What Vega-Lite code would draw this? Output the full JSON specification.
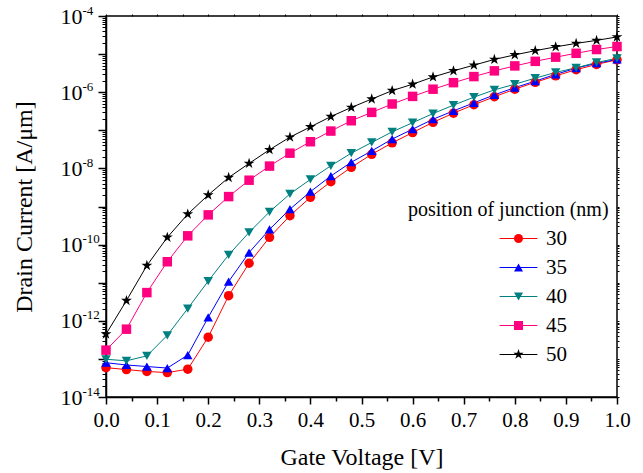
{
  "$schema": "https://vega.github.io/schema/vega-lite/v6.json",
  "width": 511,
  "height": 381,
  "autosize": {"type": "none"},
  "padding": {"left": 106, "top": 16, "right": 26, "bottom": 76},
  "background": "white",
  "config": {
    "font": "Liberation Serif",
    "view": {"stroke": "black", "strokeWidth": 1.5},
    "style": {"guide-label": {"font": "Liberation Serif"}, "guide-title": {"font": "Liberation Serif"}},
    "axis": {"grid": false, "tickColor": "black", "domainColor": "black", "labelColor": "black", "titleColor": "black", "tickWidth": 1.5, "domainWidth": 1.5, "labelFont": "Liberation Serif", "titleFont": "Liberation Serif", "titleFontWeight": "normal"},
    "legend": {"titleFont": "Liberation Serif", "labelFont": "Liberation Serif", "titleFontSize": 20, "titleFontWeight": "normal", "titleColor": "black", "titleLimit": 400, "labelFontSize": 21, "labelColor": "black", "symbolSize": 81, "symbolStrokeWidth": 1, "symbolOffset": 100, "labelOffset": 17, "rowPadding": 7, "titlePadding": 8}
  },
  "data": {"values": [
    {"V":0,"I":5.89e-14,"pos":"30"},{"V":0.04,"I":5.25e-14,"pos":"30"},{"V":0.08,"I":4.68e-14,"pos":"30"},{"V":0.12,"I":4.37e-14,"pos":"30"},{"V":0.16,"I":5.37e-14,"pos":"30"},{"V":0.2,"I":3.72e-13,"pos":"30"},{"V":0.24,"I":4.57e-12,"pos":"30"},{"V":0.28,"I":3.24e-11,"pos":"30"},{"V":0.32,"I":1.55e-10,"pos":"30"},{"V":0.36,"I":5.75e-10,"pos":"30"},{"V":0.4,"I":1.74e-9,"pos":"30"},{"V":0.44,"I":4.47e-9,"pos":"30"},{"V":0.48,"I":1.07e-8,"pos":"30"},{"V":0.52,"I":2.34e-8,"pos":"30"},{"V":0.56,"I":4.68e-8,"pos":"30"},{"V":0.6,"I":8.71e-8,"pos":"30"},{"V":0.64,"I":1.62e-7,"pos":"30"},{"V":0.68,"I":2.82e-7,"pos":"30"},{"V":0.72,"I":4.68e-7,"pos":"30"},{"V":0.76,"I":7.59e-7,"pos":"30"},{"V":0.8,"I":1.2e-6,"pos":"30"},{"V":0.84,"I":1.82e-6,"pos":"30"},{"V":0.88,"I":2.69e-6,"pos":"30"},{"V":0.92,"I":3.89e-6,"pos":"30"},{"V":0.96,"I":5.37e-6,"pos":"30"},{"V":1.0,"I":7.08e-6,"pos":"30"},
    {"V":0,"I":7.94e-14,"pos":"35"},{"V":0.04,"I":6.92e-14,"pos":"35"},{"V":0.08,"I":6.31e-14,"pos":"35"},{"V":0.12,"I":5.75e-14,"pos":"35"},{"V":0.16,"I":1.26e-13,"pos":"35"},{"V":0.2,"I":1.23e-12,"pos":"35"},{"V":0.24,"I":1.07e-11,"pos":"35"},{"V":0.28,"I":6.17e-11,"pos":"35"},{"V":0.32,"I":2.51e-10,"pos":"35"},{"V":0.36,"I":8.51e-10,"pos":"35"},{"V":0.4,"I":2.45e-9,"pos":"35"},{"V":0.44,"I":6.31e-9,"pos":"35"},{"V":0.48,"I":1.45e-8,"pos":"35"},{"V":0.52,"I":2.88e-8,"pos":"35"},{"V":0.56,"I":5.89e-8,"pos":"35"},{"V":0.6,"I":1.07e-7,"pos":"35"},{"V":0.64,"I":1.95e-7,"pos":"35"},{"V":0.68,"I":3.24e-7,"pos":"35"},{"V":0.72,"I":5.25e-7,"pos":"35"},{"V":0.76,"I":8.51e-7,"pos":"35"},{"V":0.8,"I":1.32e-6,"pos":"35"},{"V":0.84,"I":1.95e-6,"pos":"35"},{"V":0.88,"I":2.95e-6,"pos":"35"},{"V":0.92,"I":4.27e-6,"pos":"35"},{"V":0.96,"I":5.75e-6,"pos":"35"},{"V":1.0,"I":7.24e-6,"pos":"35"},
    {"V":0,"I":9.77e-14,"pos":"40"},{"V":0.04,"I":8.91e-14,"pos":"40"},{"V":0.08,"I":1.2e-13,"pos":"40"},{"V":0.12,"I":4.17e-13,"pos":"40"},{"V":0.16,"I":2.09e-12,"pos":"40"},{"V":0.2,"I":1.1e-11,"pos":"40"},{"V":0.24,"I":5.37e-11,"pos":"40"},{"V":0.28,"I":2.09e-10,"pos":"40"},{"V":0.32,"I":7.24e-10,"pos":"40"},{"V":0.36,"I":2.14e-9,"pos":"40"},{"V":0.4,"I":5.13e-9,"pos":"40"},{"V":0.44,"I":1.17e-8,"pos":"40"},{"V":0.48,"I":2.51e-8,"pos":"40"},{"V":0.52,"I":4.79e-8,"pos":"40"},{"V":0.56,"I":9.12e-8,"pos":"40"},{"V":0.6,"I":1.58e-7,"pos":"40"},{"V":0.64,"I":2.75e-7,"pos":"40"},{"V":0.68,"I":4.57e-7,"pos":"40"},{"V":0.72,"I":7.41e-7,"pos":"40"},{"V":0.76,"I":1.15e-6,"pos":"40"},{"V":0.8,"I":1.62e-6,"pos":"40"},{"V":0.84,"I":2.34e-6,"pos":"40"},{"V":0.88,"I":3.31e-6,"pos":"40"},{"V":0.92,"I":4.37e-6,"pos":"40"},{"V":0.96,"I":6.03e-6,"pos":"40"},{"V":1.0,"I":7.76e-6,"pos":"40"},
    {"V":0,"I":1.7e-13,"pos":"45"},{"V":0.04,"I":6.03e-13,"pos":"45"},{"V":0.08,"I":5.5e-12,"pos":"45"},{"V":0.12,"I":3.55e-11,"pos":"45"},{"V":0.16,"I":1.7e-10,"pos":"45"},{"V":0.2,"I":6.03e-10,"pos":"45"},{"V":0.24,"I":1.82e-9,"pos":"45"},{"V":0.28,"I":4.9e-9,"pos":"45"},{"V":0.32,"I":1.15e-8,"pos":"45"},{"V":0.36,"I":2.51e-8,"pos":"45"},{"V":0.4,"I":5.01e-8,"pos":"45"},{"V":0.44,"I":9.55e-8,"pos":"45"},{"V":0.48,"I":1.78e-7,"pos":"45"},{"V":0.52,"I":2.95e-7,"pos":"45"},{"V":0.56,"I":4.9e-7,"pos":"45"},{"V":0.6,"I":7.76e-7,"pos":"45"},{"V":0.64,"I":1.2e-6,"pos":"45"},{"V":0.68,"I":1.78e-6,"pos":"45"},{"V":0.72,"I":2.57e-6,"pos":"45"},{"V":0.76,"I":3.63e-6,"pos":"45"},{"V":0.8,"I":4.9e-6,"pos":"45"},{"V":0.84,"I":6.46e-6,"pos":"45"},{"V":0.88,"I":8.32e-6,"pos":"45"},{"V":0.92,"I":1.05e-5,"pos":"45"},{"V":0.96,"I":1.32e-5,"pos":"45"},{"V":1.0,"I":1.58e-5,"pos":"45"},
    {"V":0,"I":4.47e-13,"pos":"50"},{"V":0.04,"I":3.39e-12,"pos":"50"},{"V":0.08,"I":2.82e-11,"pos":"50"},{"V":0.12,"I":1.55e-10,"pos":"50"},{"V":0.16,"I":6.31e-10,"pos":"50"},{"V":0.2,"I":2.0e-9,"pos":"50"},{"V":0.24,"I":5.75e-9,"pos":"50"},{"V":0.28,"I":1.35e-8,"pos":"50"},{"V":0.32,"I":3.09e-8,"pos":"50"},{"V":0.36,"I":6.61e-8,"pos":"50"},{"V":0.4,"I":1.23e-7,"pos":"50"},{"V":0.44,"I":2.29e-7,"pos":"50"},{"V":0.48,"I":3.98e-7,"pos":"50"},{"V":0.52,"I":6.61e-7,"pos":"50"},{"V":0.56,"I":1.1e-6,"pos":"50"},{"V":0.6,"I":1.62e-6,"pos":"50"},{"V":0.64,"I":2.51e-6,"pos":"50"},{"V":0.68,"I":3.63e-6,"pos":"50"},{"V":0.72,"I":5.13e-6,"pos":"50"},{"V":0.76,"I":7.24e-6,"pos":"50"},{"V":0.8,"I":9.55e-6,"pos":"50"},{"V":0.84,"I":1.23e-5,"pos":"50"},{"V":0.88,"I":1.55e-5,"pos":"50"},{"V":0.92,"I":1.91e-5,"pos":"50"},{"V":0.96,"I":2.29e-5,"pos":"50"},{"V":1.0,"I":2.82e-5,"pos":"50"}
  ]},
  "layer": [
    {
      "mark": {"type": "line", "strokeWidth": 1},
      "encoding": {
        "x": {"field": "V", "type": "quantitative", "scale": {"domain": [0, 1], "nice": false, "zero": false},
          "axis": {"orient": "bottom", "values": [0,0.1,0.2,0.3,0.4,0.5,0.6,0.7,0.8,0.9,1.0], "format": ".1f", "tickSize": 7, "labelFontSize": 21, "labelPadding": 5, "labelFlush": false, "labelOverlap": false, "title": "Gate Voltage [V]", "titleFontSize": 24, "titlePadding": 15}},
        "y": {"field": "I", "type": "quantitative", "scale": {"type": "log", "domain": [1e-14, 1e-4], "nice": false},
          "axis": {"orient": "left", "values": [1e-14,1e-13,1e-12,1e-11,1e-10,1e-9,1e-8,1e-7,1e-6,1e-5,1e-4], "tickSize": 8, "labelExpr": "abs(round(log(datum.value)/LN10)) % 2 == 0 ? '10' : ''", "labelFontSize": 22, "labelPadding": 16, "labelFlush": false, "labelOverlap": false, "title": "Drain Current [A/μm]", "titleFontSize": 24, "titlePadding": 24}},
        "color": {"field": "pos", "type": "nominal", "scale": {"domain": ["30","35","40","45","50"], "range": ["#FF0000","#0000FF","#008080","#FF0080","#000000"]},
          "legend": {"orient": "none", "legendX": 302, "legendY": 184, "title": "position of junction (nm)", "titleFont": "Liberation Serif", "titleFontSize": 20, "titleFontWeight": "normal", "titleLimit": 400, "labelFont": "Liberation Serif", "labelFontSize": 21, "titleOpacity": 0, "labelOpacity": 0, "symbolType": "M-4.2,0H4.2", "zindex": 0}}
      }
    },
    {
      "mark": {"type": "point", "filled": true, "opacity": 1, "size": 90},
      "encoding": {
        "x": {"field": "V", "type": "quantitative",
          "axis": {"orient": "bottom", "values": [0.05,0.15,0.25,0.35,0.45,0.55,0.65,0.75,0.85,0.95], "tickSize": 4, "labels": false, "domain": false, "title": null}},
        "y": {"field": "I", "type": "quantitative",
          "axis": {"orient": "left", "values": [1e-14,1e-12,1e-10,1e-8,1e-6,1e-4], "tickSize": 0, "ticks": false, "domain": false, "labelExpr": "'' + round(log(datum.value)/LN10)", "labelAlign": "left", "labelPadding": 24, "labelOffset": -6, "labelFontSize": 13, "labelFlush": false, "labelOverlap": false, "title": null}},
        "color": {"field": "pos", "type": "nominal",
          "legend": {"orient": "none", "legendX": 302, "legendY": 184, "title": "position of junction (nm)", "titleFont": "Liberation Serif", "titleFontSize": 20, "titleFontWeight": "normal", "titleLimit": 400, "labelFont": "Liberation Serif", "labelFontSize": 21, "zindex": 1}},
        "shape": {"field": "pos", "type": "nominal", "scale": {"domain": ["30","35","40","45","50"], "range": ["circle","triangle-up","triangle-down","square","M0,-1.2L0.27,-0.372L1.141,-0.371L0.437,0.142L0.705,0.971L0,0.46L-0.705,0.971L-0.437,0.142L-1.141,-0.371L-0.27,-0.372Z"]},
          "legend": {"orient": "none", "legendX": 302, "legendY": 184, "title": "position of junction (nm)", "titleFont": "Liberation Serif", "titleFontSize": 20, "titleFontWeight": "normal", "titleLimit": 400, "labelFont": "Liberation Serif", "labelFontSize": 21, "zindex": 1}}
      }
    },
    {
      "mark": {"type": "point", "opacity": 0},
      "encoding": {
        "x": {"field": "V", "type": "quantitative",
          "axis": {"orient": "top", "values": [0,0.05,0.1,0.15,0.2,0.25,0.3,0.35,0.4,0.45,0.5,0.55,0.6,0.65,0.7,0.75,0.8,0.85,0.9,0.95,1.0], "tickSize": 2, "tickWidth": 1, "labels": false, "domain": false, "title": null}},
        "y": {"field": "I", "type": "quantitative",
          "axis": {"orient": "left", "values": [2e-14,3e-14,4e-14,5e-14,6e-14,7e-14,8e-14,9e-14,2e-13,3e-13,4e-13,5e-13,6e-13,7e-13,8e-13,9e-13,2e-12,3e-12,4e-12,5e-12,6e-12,7e-12,8e-12,9e-12,2e-11,3e-11,4e-11,5e-11,6e-11,7e-11,8e-11,9e-11,2e-10,3e-10,4e-10,5e-10,6e-10,7e-10,8e-10,9e-10,2e-9,3e-9,4e-9,5e-9,6e-9,7e-9,8e-9,9e-9,2e-8,3e-8,4e-8,5e-8,6e-8,7e-8,8e-8,9e-8,2e-7,3e-7,4e-7,5e-7,6e-7,7e-7,8e-7,9e-7,2e-6,3e-6,4e-6,5e-6,6e-6,7e-6,8e-6,9e-6,2e-5,3e-5,4e-5,5e-5,6e-5,7e-5,8e-5,9e-5], "tickSize": 4, "tickWidth": 1, "labels": false, "domain": false, "title": null}}
      }
    },
    {
      "mark": {"type": "point", "opacity": 0},
      "encoding": {
        "x": {"field": "V", "type": "quantitative", "axis": null},
        "y": {"field": "I", "type": "quantitative",
          "axis": {"orient": "right", "values": [1e-14,2e-14,3e-14,4e-14,5e-14,6e-14,7e-14,8e-14,9e-14,1e-13,2e-13,3e-13,4e-13,5e-13,6e-13,7e-13,8e-13,9e-13,1e-12,2e-12,3e-12,4e-12,5e-12,6e-12,7e-12,8e-12,9e-12,1e-11,2e-11,3e-11,4e-11,5e-11,6e-11,7e-11,8e-11,9e-11,1e-10,2e-10,3e-10,4e-10,5e-10,6e-10,7e-10,8e-10,9e-10,1e-9,2e-9,3e-9,4e-9,5e-9,6e-9,7e-9,8e-9,9e-9,1e-8,2e-8,3e-8,4e-8,5e-8,6e-8,7e-8,8e-8,9e-8,1e-7,2e-7,3e-7,4e-7,5e-7,6e-7,7e-7,8e-7,9e-7,1e-6,2e-6,3e-6,4e-6,5e-6,6e-6,7e-6,8e-6,9e-6,1e-5,2e-5,3e-5,4e-5,5e-5,6e-5,7e-5,8e-5,9e-5,1e-4], "tickSize": 2, "tickWidth": 1, "labels": false, "domain": false, "title": null}}
      }
    }
  ],
  "resolve": {"axis": {"x": "independent", "y": "independent"}, "legend": {"color": "independent", "shape": "independent"}}
}
